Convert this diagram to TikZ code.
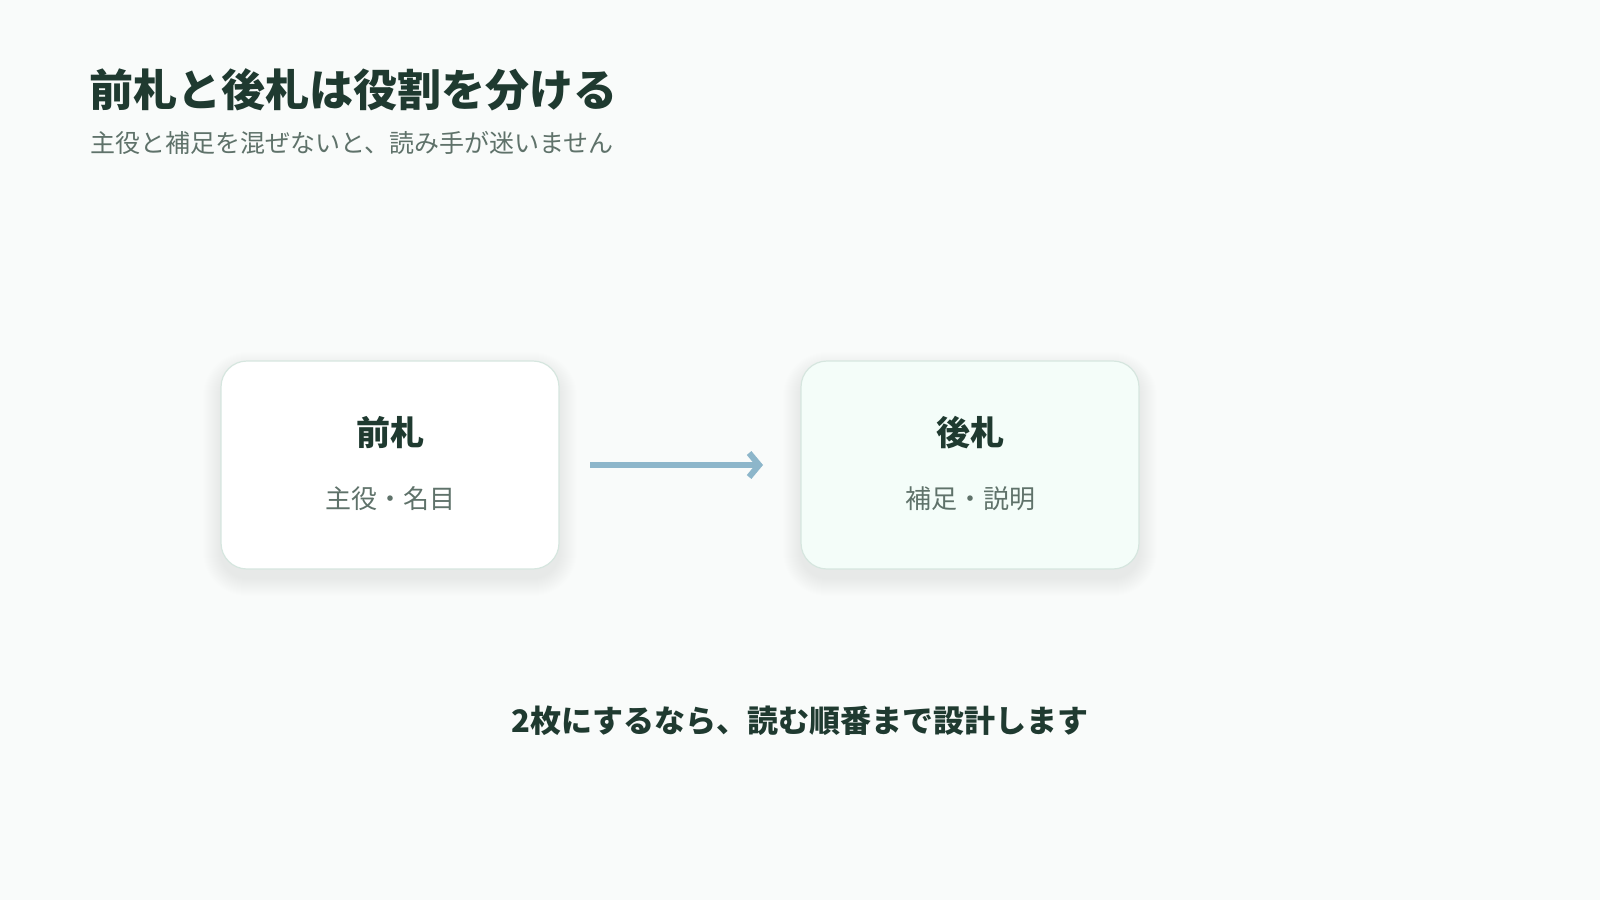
\documentclass[tikz,border=0pt]{standalone}
\usepackage{fontspec}
\setmainfont{Noto Sans CJK JP}
\usetikzlibrary{arrows.meta}
\definecolor{bg}{HTML}{F9FBFA}
\definecolor{ink}{HTML}{1F3A30}
\definecolor{muted}{HTML}{5F726A}
\definecolor{edge}{HTML}{D6E6DF}
\definecolor{mint}{HTML}{F4FDF9}
\definecolor{arrowc}{HTML}{8DB6CA}
\definecolor{shadowc}{HTML}{2C4A40}
\newcommand\cardshade[4]{%
  \foreach \s in {1,...,18}{%
    \pgfmathsetmacro\rr{26+\s}%
    \fill[shadowc,opacity=0.0048,rounded corners=\rr pt] (#1-\s,#2-\s+9) rectangle (#3+\s,#4+\s+9);}}
\begin{document}
\begin{tikzpicture}[x=1pt,y=-1pt,
  card/.style={draw=edge,line width=1.2pt,rounded corners=26pt},
  cardtitle/.style={anchor=base,text=ink,font=\fontsize{34}{38}\selectfont\bfseries},
  cardsub/.style={anchor=base,text=muted,font=\fontsize{26}{30}\selectfont},
  conn/.style={draw=arrowc,line width=6pt,-{Straight Barb[length=10pt,width=24pt]}}]
\fill[bg] (0,0) rectangle (1600,900);
\useasboundingbox (0,0) rectangle (1600,900);
\node[anchor=base west,inner sep=0pt,text=ink,font=\fontsize{44}{50}\selectfont\bfseries] (title) at (89,106.5) {前札と後札は役割を分ける};
\node[anchor=base west,inner sep=0pt,text=muted,font=\fontsize{25}{30}\selectfont] (subtitle) at (90,152.5) {主役と補足を混ぜないと、読み手が迷いません};
\cardshade{221}{361}{559}{569}
\cardshade{801}{361}{1139}{569}
\path[card,fill=white] (221,361) rectangle (559,569);
\path[card,fill=mint] (801,361) rectangle (1139,569);
\node[cardtitle] (t1) at (390,445) {前札};
\node[cardsub] (s1) at (390,508.5) {主役・名目};
\node[cardtitle] (t2) at (970,445) {後札};
\node[cardsub] (s2) at (970,508.5) {補足・説明};
\coordinate (p) at (590,465);
\coordinate (q) at (763,465);
\draw[conn] (p) -- (q);
\node[anchor=base,inner sep=0pt,text=ink,font=\fontsize{31}{36}\selectfont\bfseries] (foot) at (800,732) {2枚にするなら、読む順番まで設計します};
\end{tikzpicture}
\end{document}
